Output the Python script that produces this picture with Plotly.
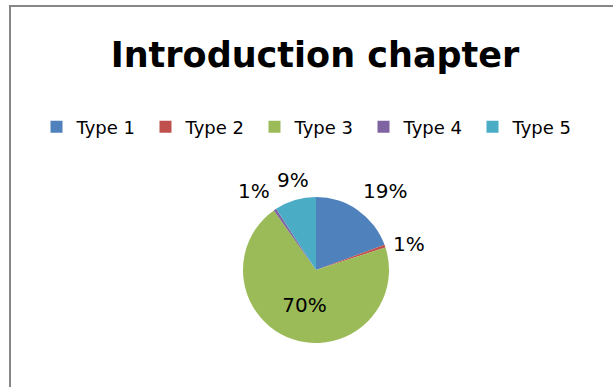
import math
import plotly.graph_objects as go

labels = ["Type 1", "Type 2", "Type 3", "Type 4", "Type 5"]
values = [19.4, 0.6, 70.2, 0.6, 9.2]
colors = ["#4F81BD", "#C0504D", "#9BBB59", "#8064A2", "#4BACC6"]
outside = [True, True, False, True, True]
title_text = "Introduction chapter"

W, H = 613, 387
cx, cy, r = 316, 270, 73
label_pad = 6

fig = go.Figure(go.Pie(
    labels=labels,
    values=values,
    sort=False,
    direction="clockwise",
    rotation=0,
    marker=dict(colors=colors, line=dict(width=0)),
    texttemplate="%{percent:.0%}",
    textposition=["none" if o else "inside" for o in outside],
    textfont=dict(family="DejaVu Sans", size=20, color="#000000"),
    insidetextorientation="horizontal",
    domain=dict(x=[(cx - r) / W, (cx + r) / W], y=[1 - (cy + r) / H, 1 - (cy - r) / H]),
    hoverinfo="label+percent",
))

# outside percentage labels, placed at each slice's mid-angle
total = sum(values)
cum = 0.0
annotations = []
for v, o in zip(values, outside):
    mid = (cum + v / 2) / total * 2 * math.pi
    cum += v
    if not o:
        continue
    s, c = math.sin(mid), math.cos(mid)
    px = cx + (r + label_pad) * s
    py = cy - (r + label_pad) * c
    xa = "left" if s > 0.3 else ("right" if s < -0.3 else "center")
    ya = "bottom" if c > 0.5 else ("top" if c < -0.5 else "middle")
    pct = int(v / total * 100 + 0.5)
    annotations.append(dict(
        x=px / W, y=1 - py / H, xref="paper", yref="paper",
        text=f"{pct}%", showarrow=False,
        xanchor=xa, yanchor=ya,
        font=dict(family="DejaVu Sans", size=20, color="#000000"),
    ))

fig.update_layout(
    width=W, height=H,
    margin=dict(l=0, r=0, t=0, b=0),
    paper_bgcolor="white",
    plot_bgcolor="white",
    title=dict(text="<b>" + title_text + "</b>", x=315 / W, xanchor="center",
               y=1 - 55 / H, yanchor="middle", yref="container",
               font=dict(family="DejaVu Sans", size=35, color="#000000")),
    legend=dict(orientation="h", x=309 / W, xanchor="center", y=1 - 127 / H, yanchor="middle",
                font=dict(family="DejaVu Sans", size=18, color="#000000"),
                itemwidth=30, entrywidth=64, traceorder="normal"),
    annotations=annotations,
    shapes=[dict(type="rect", xref="paper", yref="paper",
                 x0=10 / W, x1=1.05, y0=-0.05, y1=1 - 6 / H,
                 line=dict(color="#868686", width=2), fillcolor="rgba(0,0,0,0)")],
)

fig.write_html("out.html")
